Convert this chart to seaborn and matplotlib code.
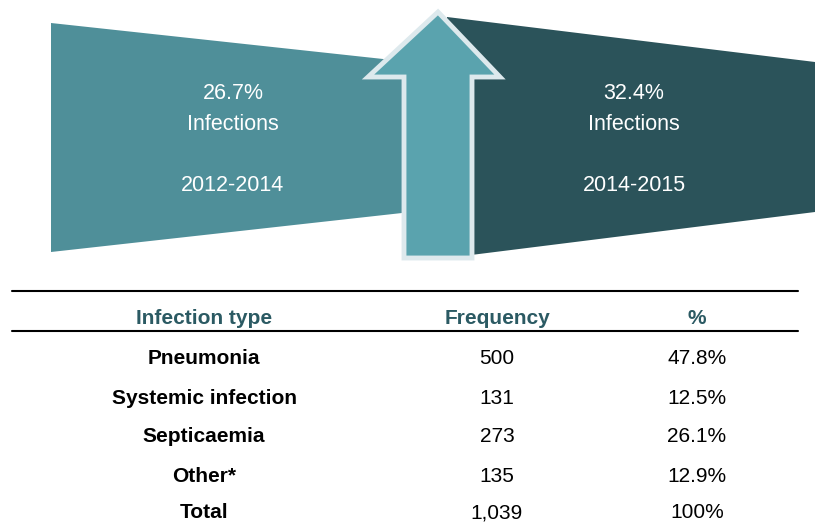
import seaborn as sns
import matplotlib.pyplot as plt
from matplotlib.patches import Polygon

# data
periods = ["2012-2014", "2014-2015"]
infection_rates = ["26.7%", "32.4%"]
infection_types = ["Pneumonia", "Systemic infection", "Septicaemia", "Other*", "Total"]
frequencies = ["500", "131", "273", "135", "1,039"]
percentages = ["47.8%", "12.5%", "26.1%", "12.9%", "100%"]
headers = ["Infection type", "Frequency", "%"]

sns.set_style("white")
plt.rcParams['font.family'] = ['Liberation Sans', 'DejaVu Sans']
plt.rcParams['text.color'] = 'black'

left_col = "#4f8f99"
right_col = "#2b535a"
arrow_fill = "#5aa3ae"
arrow_edge = "#dde9ed"
head_col = "#2b5a63"

fig = plt.figure(figsize=(8.15, 5.23), dpi=100)
ax = fig.add_axes([0, 0, 1, 1])
ax.set_xlim(0, 815)
ax.set_ylim(523, 0)
ax.axis("off")

# two funnel-shaped panels
ax.add_patch(Polygon([(51, 23), (420, 63), (420, 211), (51, 252)],
                     closed=True, fc=left_col, ec="none"))
ax.add_patch(Polygon([(447, 17), (815, 62), (815, 212), (447, 258)],
                     closed=True, fc=right_col, ec="none"))

# up arrow
ax.add_patch(Polygon([(438, 12), (500, 77), (472, 77), (472, 258),
                      (404, 258), (404, 77), (368, 77)],
                     closed=True, fc=arrow_fill, ec=arrow_edge, lw=3.5,
                     joinstyle="miter"))

for cx, rate, period in zip([233, 634], infection_rates, periods):
    ax.text(cx, 91, rate, color="white", fontsize=15.5, ha="center", va="center_baseline")
    ax.text(cx, 122, "Infections", color="white", fontsize=15.5, ha="center", va="center_baseline")
    ax.text(cx, 183, period, color="white", fontsize=15.5, ha="center", va="center_baseline")

# table
col_x = [204, 497, 697]
ax.plot([12, 798], [291, 291], color="black", lw=1.5)
ax.plot([12, 798], [331, 331], color="black", lw=1.5)
for x, h in zip(col_x, headers):
    ax.text(x, 319, h, color=head_col, fontsize=15, fontweight="bold",
            ha="center", va="center")

row_y = [358, 398, 437, 476, 513]
for y, name, f, p in zip(row_y, infection_types, frequencies, percentages):
    ax.text(col_x[0], y, name, fontsize=15, fontweight="bold", ha="center", va="center")
    ax.text(col_x[1], y, f, fontsize=15, ha="center", va="center")
    ax.text(col_x[2], y, p, fontsize=15, ha="center", va="center")

fig.savefig("out.png", dpi=100)
